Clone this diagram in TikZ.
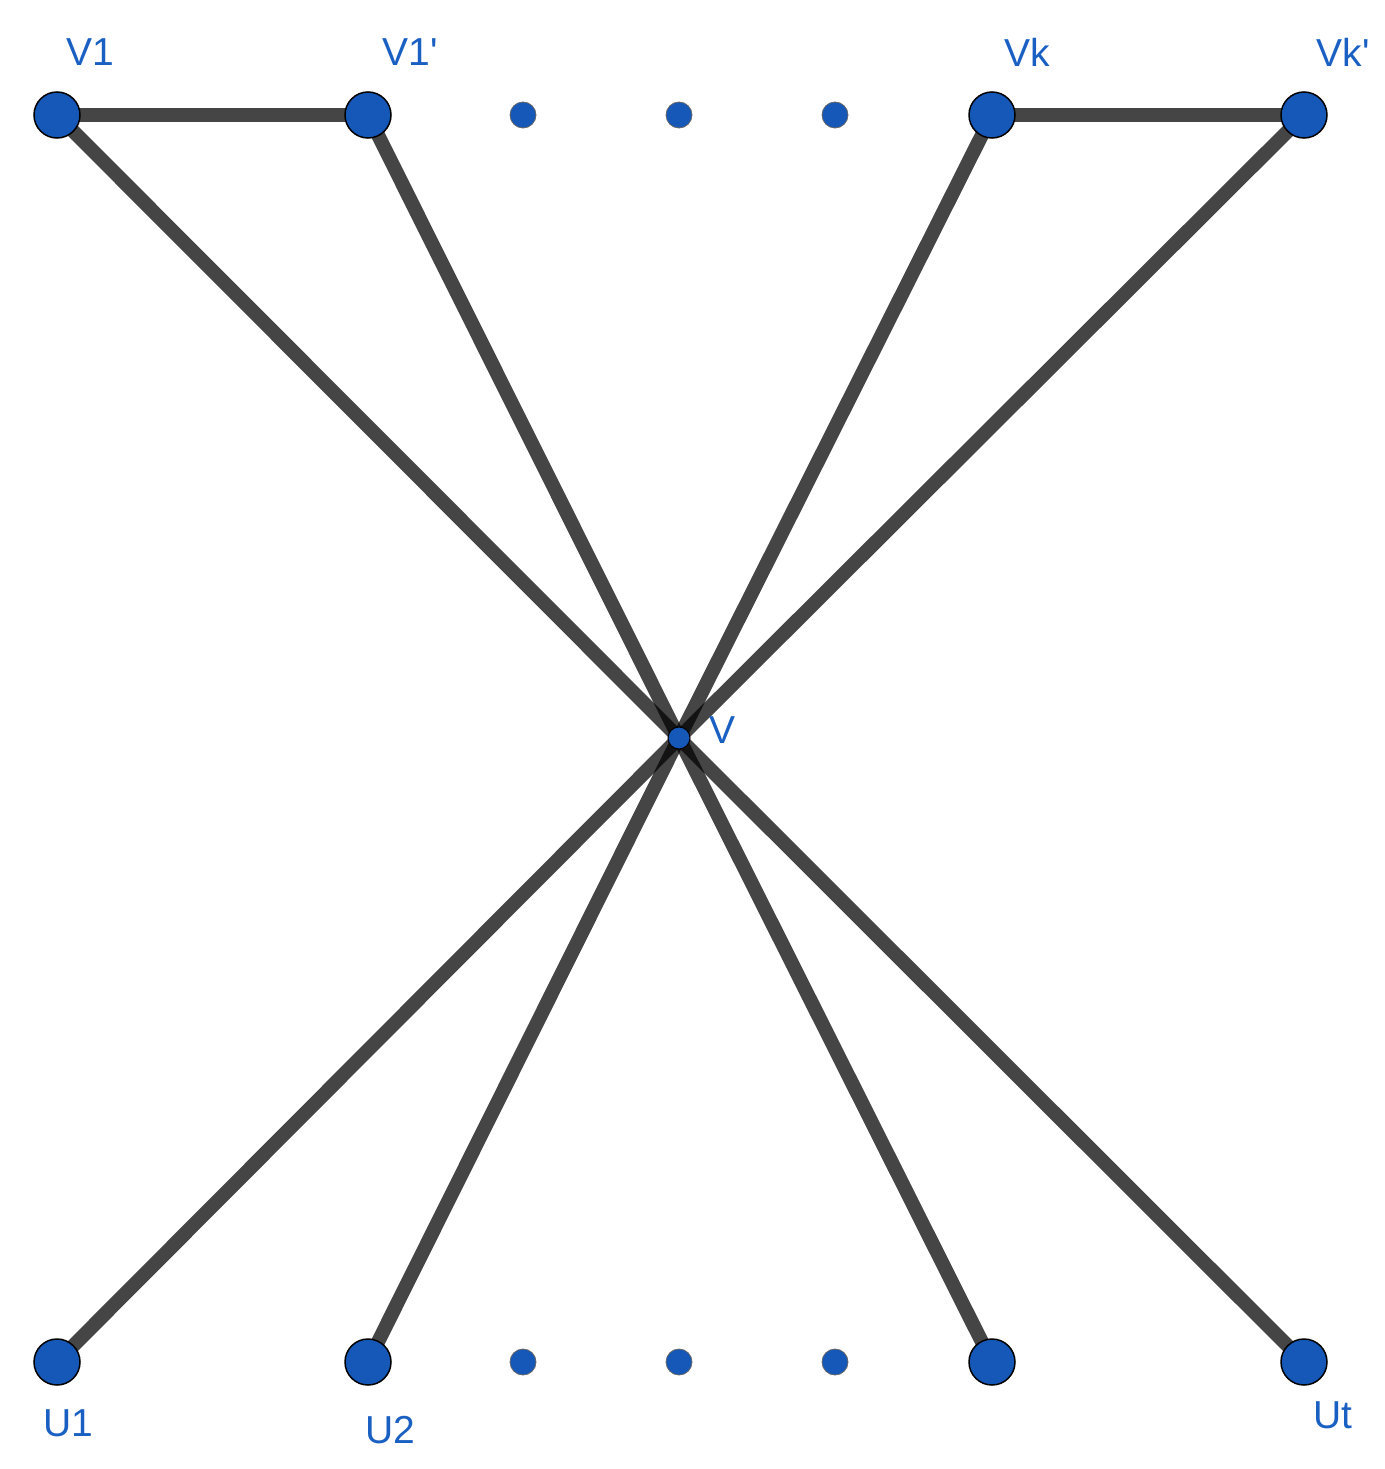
\documentclass[tikz,border=0pt]{standalone}
\usepackage{fontspec}
\setmainfont{Liberation Sans}
\usetikzlibrary{positioning}
\definecolor{vblue}{HTML}{1558B8}
\definecolor{lblue}{HTML}{1A60C2}
\tikzstyle{l2}=[line width=14pt, draw=black, draw opacity=0.73]
\tikzstyle{vert}=[circle, draw=black, line width=1.5pt, fill=vblue, minimum size=46pt, inner sep=0pt]
\tikzstyle{dotv}=[circle, draw=black!60, line width=0.8pt, fill=vblue, minimum size=26pt, inner sep=0pt]
\tikzstyle{cent}=[circle, draw=black, line width=1pt, fill=vblue, minimum size=22pt, inner sep=0pt]
\tikzstyle{lab}=[text=lblue, font=\fontsize{39}{39}\selectfont, inner sep=0pt]

\begin{document}
\begin{tikzpicture}[x=1pt, y=-1pt]
    \useasboundingbox (0,0) rectangle (1384,1469);

    \coordinate (c) at (679,738);
    % edges first
    \draw[l2] (57,115) coordinate (p0) -- (c);
    \draw[l2] (368,115) coordinate (p1) -- (c);
    \draw[l2] (992,115) coordinate (p2) -- (c);
    \draw[l2] (1304,115) coordinate (p3) -- (c);
    \draw[l2] (57,1362) coordinate (q0) -- (c);
    \draw[l2] (368,1362) coordinate (q1) -- (c);
    \draw[l2] (992,1362) coordinate (q2) -- (c);
    \draw[l2] (1304,1362) coordinate (q3) -- (c);
    \draw[l2] (p0) -- (p1);
    \draw[l2] (p2) -- (p3);

    \node[vert] at (p0) (v1) {};
    \node[vert] at (p1) (v1p) {};
    \node[vert] at (p2) (vk) {};
    \node[vert] at (p3) (vkp) {};
    \node[vert] at (q0) (u1) {};
    \node[vert] at (q1) (u2) {};
    \node[vert] at (q2) (u3) {};
    \node[vert] at (q3) (ut) {};
    \node[cent] at (c) (v) {};

    \foreach \x in {523,679,835} {
        \node[dotv] at (\x,115) (t\x) {};
        \node[dotv] at (\x,1362) (b\x) {};
    }

    \node[lab] at (90,52) (lv1) {V1};
    \node[lab] at (410,52) (lv1p) {V1\textquotesingle};
    \node[lab] at (1027,52) (lvk) {Vk};
    \node[lab] at (1343,52) (lvkp) {Vk\textquotesingle};
    \node[lab] at (722,730) (lv) {V};
    \node[lab] at (68,1423) (lu1) {U1};
    \node[lab] at (390,1430) (lu2) {U2};
    \node[lab] at (1333,1415) (lut) {Ut};
\end{tikzpicture}
\end{document}
